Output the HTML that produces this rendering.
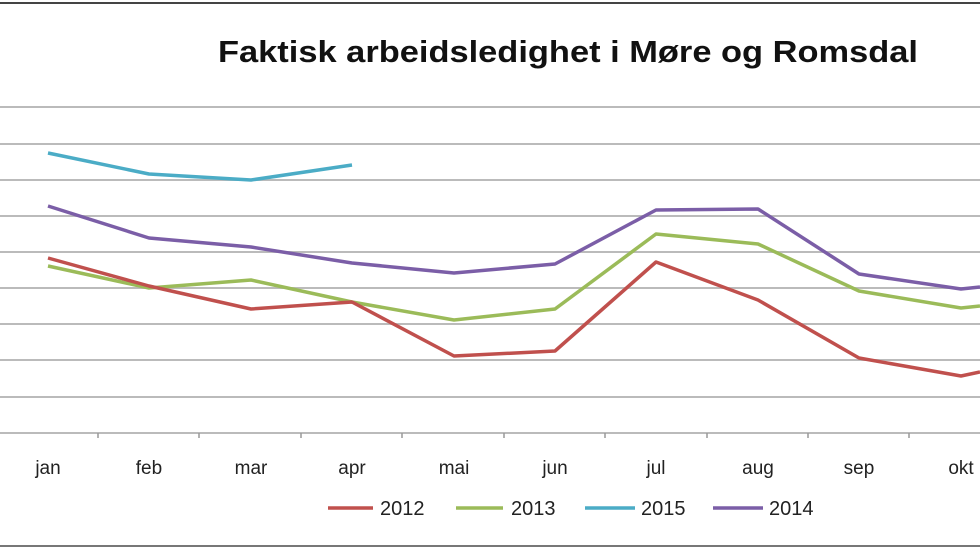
<!DOCTYPE html>
<html><head><style>body{margin:0;background:#fff}svg{display:block}</style></head><body>
<svg width="980" height="551" viewBox="0 0 980 551" xmlns="http://www.w3.org/2000/svg" font-family="Liberation Sans, sans-serif">
<rect width="980" height="551" fill="#fff"/>
<line x1="0" y1="3" x2="980" y2="3" stroke="#444" stroke-width="2"/>
<text x="218" y="62" textLength="700" lengthAdjust="spacingAndGlyphs" font-size="31" font-weight="bold" fill="#111">Faktisk arbeidsledighet i Møre og Romsdal</text>
<g stroke="#bbb" stroke-width="2">
<line x1="0" y1="107" x2="980" y2="107"/><line x1="0" y1="144" x2="980" y2="144"/>
<line x1="0" y1="180" x2="980" y2="180"/><line x1="0" y1="216" x2="980" y2="216"/>
<line x1="0" y1="252" x2="980" y2="252"/><line x1="0" y1="288" x2="980" y2="288"/>
<line x1="0" y1="324" x2="980" y2="324"/><line x1="0" y1="360" x2="980" y2="360"/>
<line x1="0" y1="397" x2="980" y2="397"/><line x1="0" y1="433" x2="980" y2="433"/>
</g>
<g stroke="#999" stroke-width="1.5">
<line x1="98" y1="433" x2="98" y2="438"/><line x1="199" y1="433" x2="199" y2="438"/><line x1="301" y1="433" x2="301" y2="438"/><line x1="402" y1="433" x2="402" y2="438"/><line x1="504" y1="433" x2="504" y2="438"/><line x1="605" y1="433" x2="605" y2="438"/><line x1="707" y1="433" x2="707" y2="438"/><line x1="808" y1="433" x2="808" y2="438"/><line x1="909" y1="433" x2="909" y2="438"/>
</g>
<g font-size="19" fill="#222" text-anchor="middle">
<text x="48" y="474">jan</text><text x="149" y="474">feb</text><text x="251" y="474">mar</text><text x="352" y="474">apr</text><text x="454" y="474">mai</text><text x="555" y="474">jun</text><text x="656" y="474">jul</text><text x="758" y="474">aug</text><text x="859" y="474">sep</text><text x="961" y="474">okt</text>
</g>
<g fill="none" stroke-width="3.5" stroke-linejoin="round">
<polyline stroke="#4bacc6" points="48,153 149,174 251,180 352,165"/>
<polyline stroke="#7b5ea7" points="48,206 149,238 251,247 352,263 454,273 555,264 656,210 758,209 859,274 961,289 980,287"/>
<polyline stroke="#9bbb59" points="48,266 149,288 251,280 352,302 454,320 555,309 656,234 758,244 859,291 961,308 980,306"/>
<polyline stroke="#c0504d" points="48,258 149,286 251,309 352,302 454,356 555,351 656,262 758,300 859,358 961,376 980,372"/>
</g>
<g stroke-width="3.5">
<line x1="328" y1="508" x2="373" y2="508" stroke="#c0504d"/>
<line x1="456" y1="508" x2="503" y2="508" stroke="#9bbb59"/>
<line x1="585" y1="508" x2="635" y2="508" stroke="#4bacc6"/>
<line x1="713" y1="508" x2="763" y2="508" stroke="#7b5ea7"/>
</g>
<g font-size="20" fill="#222">
<text x="380" y="515">2012</text><text x="511" y="515">2013</text><text x="641" y="515">2015</text><text x="769" y="515">2014</text>
</g>
<line x1="0" y1="546" x2="980" y2="546" stroke="#777" stroke-width="2"/>
</svg>
</body></html>
